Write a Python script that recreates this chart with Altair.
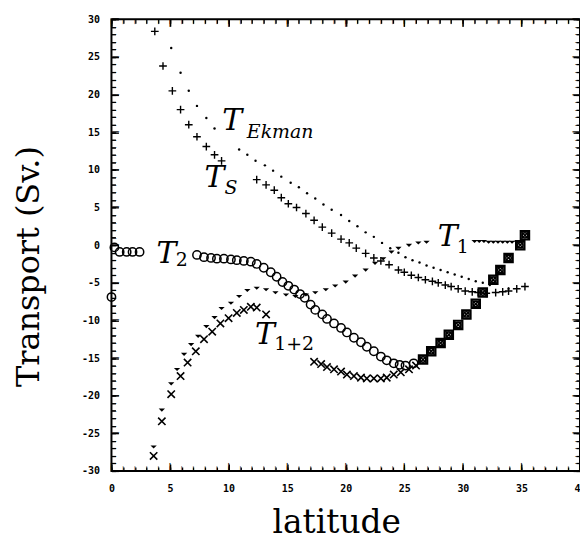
import altair as alt
import pandas as pd

# ---------------- data ----------------
ekman_lat = [5.1, 5.9, 6.6, 7.3, 8.1, 8.8, 10.9, 11.6, 12.3, 13.1, 13.8, 14.5, 15.3, 16.0,
             16.7, 17.4, 18.1, 18.8, 19.6, 20.3, 21.0, 21.7, 22.4, 23.1, 23.8, 24.5, 25.1,
             25.7, 26.3, 26.9, 27.5, 28.1, 28.7, 29.3, 29.9, 30.5, 31.1, 31.7, 32.3, 33.9]
ekman_val = [26.2, 22.9, 20.5, 18.5, 16.9, 15.5, 12.7, 12.0, 11.2, 10.6, 9.9, 9.1, 8.3, 7.7,
             6.9, 6.2, 5.4, 4.7, 4.0, 3.2, 2.5, 1.7, 1.1, 0.3, -0.4, -1.0, -1.6,
             -2.0, -2.3, -2.7, -3.0, -3.3, -3.6, -3.9, -4.2, -4.5, -4.8, -5.0, -5.3, -5.8]

ts_lat = [3.7, 4.4, 5.2, 5.9, 6.6, 7.3, 8.1, 8.8, 9.4, 12.4, 13.2, 13.9, 14.5, 15.1, 15.8,
          16.6, 17.3, 18.0, 18.8, 19.6, 20.3, 20.9, 21.7, 22.4, 23.0, 23.7, 24.5, 25.0,
          25.6, 26.2, 26.8, 27.4, 27.9, 28.5, 29.0, 29.6, 30.2, 30.8, 31.3, 32.0, 32.8,
          33.4, 33.9, 34.6, 35.3]
ts_val = [28.4, 23.8, 20.5, 18.0, 16.0, 14.4, 13.1, 12.0, 11.2, 8.7, 8.0, 7.3, 6.3, 5.5, 5.0,
          4.2, 3.3, 2.4, 1.6, 0.8, 0.3, -0.4, -1.1, -1.7, -2.1, -2.6, -3.3, -3.6,
          -4.0, -4.3, -4.6, -4.8, -5.0, -5.3, -5.5, -5.8, -6.1, -6.2, -6.3, -6.4, -6.3,
          -6.2, -6.1, -5.8, -5.5]

t1_lat = [3.6, 4.3, 5.1, 5.6, 6.2, 6.8, 7.4, 8.1, 8.8, 9.4, 10.2, 10.9, 11.6, 12.4, 13.2,
          14.0, 14.9, 15.7, 16.6, 17.4, 18.3, 19.1, 20.0, 20.8, 21.7, 22.5, 23.2, 23.9,
          24.5, 25.4, 26.2, 26.9, 31.0, 31.4, 31.8, 32.2, 32.6, 33.0, 33.4, 33.8, 34.2,
          34.6, 35.0]
t1_val = [-26.8, -21.9, -18.4, -16.5, -14.5, -13.2, -12.1, -10.8, -9.6, -8.4, -7.7, -6.8,
          -6.0, -5.7, -5.9, -6.3, -6.6, -6.8, -6.6, -6.3, -5.9, -5.4, -4.9, -4.1, -3.3,
          -2.4, -1.8, -0.9, -0.4, 0.0, 0.3, 0.4, 0.5, 0.5, 0.5, 0.4, 0.4, 0.4, 0.4, 0.4,
          0.4, 0.4, 0.5]

t2_lat = [0.0, 0.25, 0.7, 1.3, 1.8, 2.4, 7.3, 7.9, 8.5, 9.0, 9.6, 10.2, 10.7, 11.3, 11.9,
          12.4, 13.0, 13.6, 14.1, 14.6, 15.1, 15.6, 16.1, 16.5, 17.0, 17.4, 18.0, 18.4,
          19.0, 19.6, 20.1, 20.7, 21.3, 21.8, 22.4, 23.0, 23.5, 24.1, 24.6, 25.1, 25.8]
t2_val = [-6.9, -0.3, -0.9, -0.9, -0.9, -0.9, -1.3, -1.6, -1.7, -1.8, -1.8, -1.9, -2.0,
          -2.1, -2.2, -2.5, -3.0, -3.6, -4.2, -4.9, -5.4, -5.9, -6.5, -7.0, -7.9, -8.6,
          -9.2, -9.8, -10.4, -11.0, -11.6, -12.3, -12.9, -13.5, -14.1, -14.8, -15.3,
          -15.7, -15.9, -16.0, -15.7]

t12_lat = [3.6, 4.3, 5.1, 5.9, 6.5, 7.2, 7.9, 8.6, 9.3, 10.0, 10.7, 11.3, 11.9, 12.4, 13.2,
           17.3, 17.9, 18.4, 19.0, 19.6, 20.1, 20.7, 21.3, 21.8, 22.4, 23.0, 23.5, 24.1,
           24.7, 25.4, 26.0]
t12_val = [-28.0, -23.4, -19.8, -17.4, -15.6, -14.1, -12.5, -11.5, -10.4, -9.7, -9.0, -8.6,
           -8.2, -8.3, -9.2, -15.5, -15.8, -16.2, -16.5, -16.8, -17.2, -17.4, -17.6, -17.7,
           -17.7, -17.7, -17.6, -17.2, -16.9, -16.5, -16.0]

# where T1 ~ 0, T2 and T1+2 coincide (drawn with both markers)
both_lat = [26.6, 27.3, 28.1, 28.8, 29.6, 30.3, 31.1, 31.7, 32.6, 33.2, 33.9, 34.9, 35.3]
both_val = [-15.2, -14.1, -13.0, -11.9, -10.6, -9.2, -7.8, -6.3, -4.6, -3.3, -1.7, 0.0, 1.3]

lab_t_lat = [10.3, 8.8, 4.7, 28.7, 13.1]
lab_t_val = [16.5, 8.9, -1.2, 1.1, -12.0]
sub_it_text = ["Ekman", "S"]
sub_it_lat = [14.4, 10.2]
sub_it_val = [15.0, 7.6]
sub_up_text = ["2", "1", "1+2"]
sub_up_lat = [6.0, 30.0, 15.6]
sub_up_val = [-2.0, -0.3, -13.2]

x_dom = [0, 40]
y_dom = [-30, 30]
x_major = [0, 5, 10, 15, 20, 25, 30, 35, 40]
y_major = [-30, -25, -20, -15, -10, -5, 0, 5, 10, 15, 20, 25, 30]
x_minor = list(range(0, 41))
y_minor = list(range(-30, 31))

W, H = 471, 454

xs = alt.Scale(domain=x_dom, nice=False, zero=False)
ys = alt.Scale(domain=y_dom, nice=False, zero=False)

LABEL_FONT = "DejaVu Sans Mono"
TITLE_FONT = "DejaVu Serif"

# axis carrying labels and title (no ticks)
x_lab_axis = alt.Axis(orient="bottom", values=x_major, ticks=False, domain=False, grid=False,
                      labelFont=LABEL_FONT, labelFontWeight="bold", labelFontSize=10,
                      labelPadding=13, labelExpr="datum.value + ''", labelColor="black",
                      labelFlush=False,
                      title="latitude", titleFont=TITLE_FONT, titleFontSize=33,
                      titleFontWeight="normal", titleColor="black",
                      titleX=226, titleY=62, titleAlign="center", titleBaseline="alphabetic")
y_lab_axis = alt.Axis(orient="left", values=y_major, ticks=False, domain=False, grid=False,
                      labelFont=LABEL_FONT, labelFontWeight="bold", labelFontSize=10,
                      labelPadding=12, labelExpr="datum.value + ''", labelColor="black",
                      labelFlush=False,
                      title="Transport (Sv.)", titleFont=TITLE_FONT, titleFontSize=32,
                      titleFontWeight="normal", titleColor="black",
                      titleX=-73, titleY=248, titleAlign="center", titleBaseline="alphabetic")


# tick-only axes; a negative tick length (given as an expression) points the ticks inward
def tick_axis(orient, values, length):
    return alt.Axis(orient=orient, values=values, ticks=True, tickSize={"expr": str(-length)},
                    tickWidth=1.3, tickColor="black", labels=False, domain=False, grid=False,
                    title=None)


def pts(lat, val, shape, size, filled, sw=1.3, xaxis=None, yaxis=None):
    xenc = alt.X("lat:Q", scale=xs, axis=xaxis)
    yenc = alt.Y("val:Q", scale=ys, axis=yaxis)
    return alt.Chart(pd.DataFrame({"lat": lat, "val": val})).mark_point(
        shape=shape, size=size, filled=filled, color="black", strokeWidth=sw, opacity=1
    ).encode(x=xenc, y=yenc)


PLUS = "M-1,0H1M0,-1V1"
XMARK = "M-1,-1L1,1M-1,1L1,-1"
DASH = "M-1,-0.45H1L0,0.55Z"

ekman = pts(ekman_lat, ekman_val, "circle", 6, True, xaxis=x_lab_axis, yaxis=y_lab_axis)
ts = pts(ts_lat, ts_val, PLUS, 60, False, 1.4,
         xaxis=tick_axis("bottom", x_minor, 4), yaxis=tick_axis("left", y_minor, 4))
t1 = pts(t1_lat, t1_val, DASH, 40, True,
         xaxis=tick_axis("bottom", x_major, 7), yaxis=tick_axis("left", y_major, 7))
t2 = pts(t2_lat, t2_val, "circle", 70, False, 1.5,
         xaxis=tick_axis("top", x_minor, 4), yaxis=tick_axis("right", y_minor, 4))
t12 = pts(t12_lat, t12_val, XMARK, 55, False, 1.6,
          xaxis=tick_axis("top", x_major, 7), yaxis=tick_axis("right", y_major, 7))
both_o = pts(both_lat, both_val, "square", 70, False, 2.2)
both_c = pts(both_lat, both_val, "circle", 30, False, 1.5)
both_x = pts(both_lat, both_val, XMARK, 40, False, 1.5)


def txt(lat, val, labels, italic, size, font=TITLE_FONT, align="center", baseline="middle",
        weight="normal"):
    props = dict(font=font, fontSize=size, color="black", align=align, baseline=baseline,
                 fontWeight=weight)
    if italic:
        props["fontStyle"] = "italic"
    return alt.Chart(pd.DataFrame({"lat": lat, "val": val, "t": labels})).mark_text(
        **props
    ).encode(x=alt.X("lat:Q", scale=xs, axis=None),
             y=alt.Y("val:Q", scale=ys, axis=None), text="t:N")


labT = txt(lab_t_lat, lab_t_val, ["T"] * len(lab_t_lat), True, 30)
sub_it = txt(sub_it_lat, sub_it_val, sub_it_text, True, 19)
sub_up = txt(sub_up_lat, sub_up_val, sub_up_text, False, 19)

# inward frame ticks drawn as line glyphs on each edge, placed through the scales
GF = "DejaVu Sans"
glyph_ticks = []
for vals, fs in ((x_minor, 5), (x_major, 8)):
    n = len(vals)
    glyph_ticks.append(txt(vals, [y_dom[0]] * n, ["|"] * n, False, fs, GF,
                           "center", "bottom", "bold"))
    glyph_ticks.append(txt(vals, [y_dom[1]] * n, ["|"] * n, False, fs, GF,
                           "center", "top", "bold"))
for vals, fs in ((y_minor, 5), (y_major, 8)):
    n = len(vals)
    glyph_ticks.append(txt([x_dom[0]] * n, vals, ["\u2014"] * n, False, fs, GF,
                           "left", "middle", "bold"))
    glyph_ticks.append(txt([x_dom[1]] * n, vals, ["\u2014"] * n, False, fs, GF,
                           "right", "middle", "bold"))

chart = alt.layer(
    ekman, ts, t1, t2, t12, both_o, both_c, both_x, labT, sub_it, sub_up, *glyph_ticks
).resolve_axis(
    x="independent", y="independent"
).properties(
    width=W, height=H,
    autosize=alt.AutoSizeParams(type="none"),
    padding={"left": 104, "top": 10, "right": 0, "bottom": 66},
    background="white",
).configure_view(stroke="black", strokeWidth=2)

chart.save("out.html", embed_options={"renderer": "svg", "actions": False})
